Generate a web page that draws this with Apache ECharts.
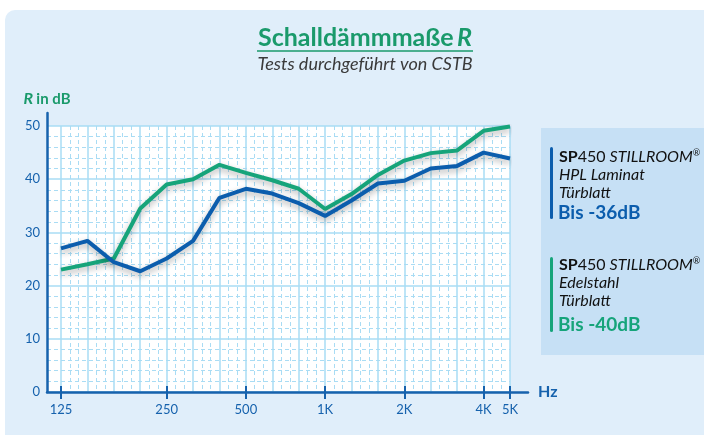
<!DOCTYPE html>
<html>
<head>
<meta charset="utf-8">
<script src="https://cdn.jsdelivr.net/npm/echarts@6/dist/echarts.min.js"></script>
<style>
html,body{margin:0;padding:0;background:#fff;}
#c{width:704px;height:435px;}
</style>
</head>
<body>
<div id="c"></div>
<script>
// ---- data ----
const tickLabels = ['125','','','','250','','','500','','','1K','','','2K','','','4K','5K'];
const blueValues  = [27.0, 28.4, 24.4, 22.7, 25.1, 28.4, 36.5, 38.2, 37.3, 35.5, 33.1, 36.0, 39.2, 39.7, 42.0, 42.5, 45.0, 43.9];
const greenValues = [23.0, 24.0, 25.1, 34.5, 39.0, 40.0, 42.7, 41.2, 39.8, 38.2, 34.4, 37.2, 40.8, 43.5, 44.9, 45.4, 49.1, 49.9];
const yTicks = { min: 0, max: 50, interval: 10 };

const BLUE = '#0b5dad';
const GREEN = '#16a47a';
const AXIS = '#1662ad';
const FONT = 'Lato, "Open Sans", sans-serif';
const labelled = (i) => tickLabels[i] !== '';

const chart = echarts.init(document.getElementById('c'), null, {renderer: 'canvas'});
const legendHead = (y) => ({type: 'text', x: 559, y: y, style: {
  text: '{b|SP}{n|450 }{i|STILLROOM}{s|®}', verticalAlign: 'middle',
  rich: {
    b: {fill: '#111', fontFamily: FONT, fontWeight: 'bold', fontSize: 16},
    n: {fill: '#111', fontFamily: FONT, fontSize: 16},
    i: {fill: '#111', fontFamily: FONT, fontStyle: 'italic', fontSize: 16},
    s: {fill: '#111', fontFamily: FONT, fontSize: 9, verticalAlign: 'top', padding: [0,0,7,0]}
  }}});
const legendLine = (y, t) => ({type: 'text', x: 559, y: y, style: {text: t, verticalAlign: 'middle', fill: '#111', fontFamily: FONT, fontStyle: 'italic', fontSize: 16}});

const option = {
  backgroundColor: '#ffffff',
  animation: false,
  grid: [
    {left: 47, right: 176, top: 113, bottom: 43},
    {left: 47, right: 194, top: 126, bottom: 43, show: true, backgroundColor: '#ffffff', borderWidth: 0},
    {left: 61, right: 194, top: 126, bottom: 43}
  ],
  xAxis: [
    {gridIndex: 0, type: 'value', min: 0, max: 1,
     axisLine: {show: true, lineStyle: {color: AXIS, width: 2.5}},
     axisTick: {show: false}, axisLabel: {show: false}, splitLine: {show: false},
     name: 'Hz', nameLocation: 'end', nameGap: 10,
     nameTextStyle: {color: AXIS, fontFamily: FONT, fontWeight: 'bold', fontSize: 16, verticalAlign: 'middle'}},
    {gridIndex: 1, type: 'value', show: false},
    {gridIndex: 2, type: 'value', min: 0, max: 17, interval: 1,
     axisLine: {show: false}, axisTick: {show: false}, axisLabel: {show: false},
     splitLine: {show: true, lineStyle: {color: '#a8dcf4', width: 1.5}},
     minorTick: {show: false, splitNumber: 3},
     minorSplitLine: {show: true, lineStyle: {color: '#a9dcf4', width: 1, type: [4, 3]}}},
    {gridIndex: 2, type: 'category', position: 'bottom', data: tickLabels, boundaryGap: false, offset: -6,
     axisLine: {show: false},
     axisTick: {show: true, interval: (i) => labelled(i), length: 13, lineStyle: {color: AXIS, width: 2}},
     axisLabel: {show: true, interval: (i) => labelled(i), margin: 17, color: AXIS, fontFamily: FONT, fontSize: 13},
     splitLine: {show: false}}
  ],
  yAxis: [
    {gridIndex: 0, type: 'value', min: 0, max: 52.44,
     axisLine: {show: true, lineStyle: {color: AXIS, width: 2.5}},
     axisTick: {show: false}, axisLabel: {show: false}, splitLine: {show: false},
     name: '{r|R} {t|in dB}', nameLocation: 'end', nameGap: 6,
     nameTextStyle: {rich: {
       r: {color: '#1a9a6b', fontFamily: FONT, fontWeight: 'bold', fontStyle: 'italic', fontSize: 16},
       t: {color: '#1a9a6b', fontFamily: FONT, fontWeight: 'bold', fontSize: 15}
     }}},
    {gridIndex: 1, type: 'value', min: yTicks.min, max: yTicks.max, interval: yTicks.interval,
     axisLine: {show: false}, axisTick: {show: false},
     axisLabel: {color: AXIS, fontFamily: FONT, fontSize: 13, margin: 7},
     splitLine: {show: true, lineStyle: {color: '#a8dcf4', width: 1.5}},
     minorTick: {show: false, splitNumber: 5},
     minorSplitLine: {show: true, lineStyle: {color: '#a9dcf4', width: 1, type: [4, 3]}}},
    {gridIndex: 2, type: 'value', min: yTicks.min, max: yTicks.max, show: false}
  ],
  series: [
    {type: 'line', xAxisIndex: 3, yAxisIndex: 2, data: greenValues, symbol: 'none', z: 5,
     lineStyle: {color: GREEN, width: 4, shadowColor: 'rgba(0,0,0,0.3)', shadowBlur: 6, shadowOffsetY: 3}},
    {type: 'line', xAxisIndex: 3, yAxisIndex: 2, data: blueValues, symbol: 'none', z: 6,
     lineStyle: {color: BLUE, width: 4, shadowColor: 'rgba(0,0,0,0.3)', shadowBlur: 6, shadowOffsetY: 3}}
  ],
  graphic: [
    {type: 'rect', z: -10, silent: true, shape: {x: 5, y: 10, width: 720, height: 440, r: 10},
     style: {fill: '#e0eefa'}},
    {type: 'rect', z: -5, silent: true, shape: {x: 541, y: 128, width: 170, height: 227},
     style: {fill: '#c6e0f5'}},
    {type: 'text', x: 365, y: 38, style: {
      text: '{a|Schalldämmmaße} {b|R}', align: 'center', verticalAlign: 'middle',
      rich: {
        a: {fill: '#1a9a6b', fontFamily: FONT, fontWeight: 'bold', fontSize: 25},
        b: {fill: '#1a9a6b', fontFamily: FONT, fontWeight: 'bold', fontStyle: 'italic', fontSize: 25}
      }}},
    {type: 'line', shape: {x1: 257, y1: 51, x2: 473, y2: 51}, style: {stroke: '#1a9a6b', lineWidth: 1.5}},
    {type: 'text', x: 365, y: 64, style: {
      text: 'Tests durchgeführt von CSTB', align: 'center', verticalAlign: 'middle',
      fill: '#3a3a3a', fontFamily: FONT, fontStyle: 'italic', fontSize: 18}},
    // legend block 1
    {type: 'rect', shape: {x: 550, y: 147, width: 3, height: 72, r: 1.5}, style: {fill: BLUE}},
    legendHead(157),
    legendLine(175, 'HPL Laminat'),
    legendLine(193, 'Türblatt'),
    {type: 'text', x: 558, y: 213, style: {text: 'Bis -36dB', verticalAlign: 'middle', fill: BLUE, fontFamily: FONT, fontWeight: 'bold', fontSize: 19}},
    // legend block 2
    {type: 'rect', shape: {x: 550, y: 257, width: 3, height: 75, r: 1.5}, style: {fill: GREEN}},
    legendHead(265),
    legendLine(283, 'Edelstahl'),
    legendLine(301, 'Türblatt'),
    {type: 'text', x: 558, y: 325, style: {text: 'Bis -40dB', verticalAlign: 'middle', fill: GREEN, fontFamily: FONT, fontWeight: 'bold', fontSize: 19}}
  ]
};
chart.setOption(option);
</script>
</body>
</html>
